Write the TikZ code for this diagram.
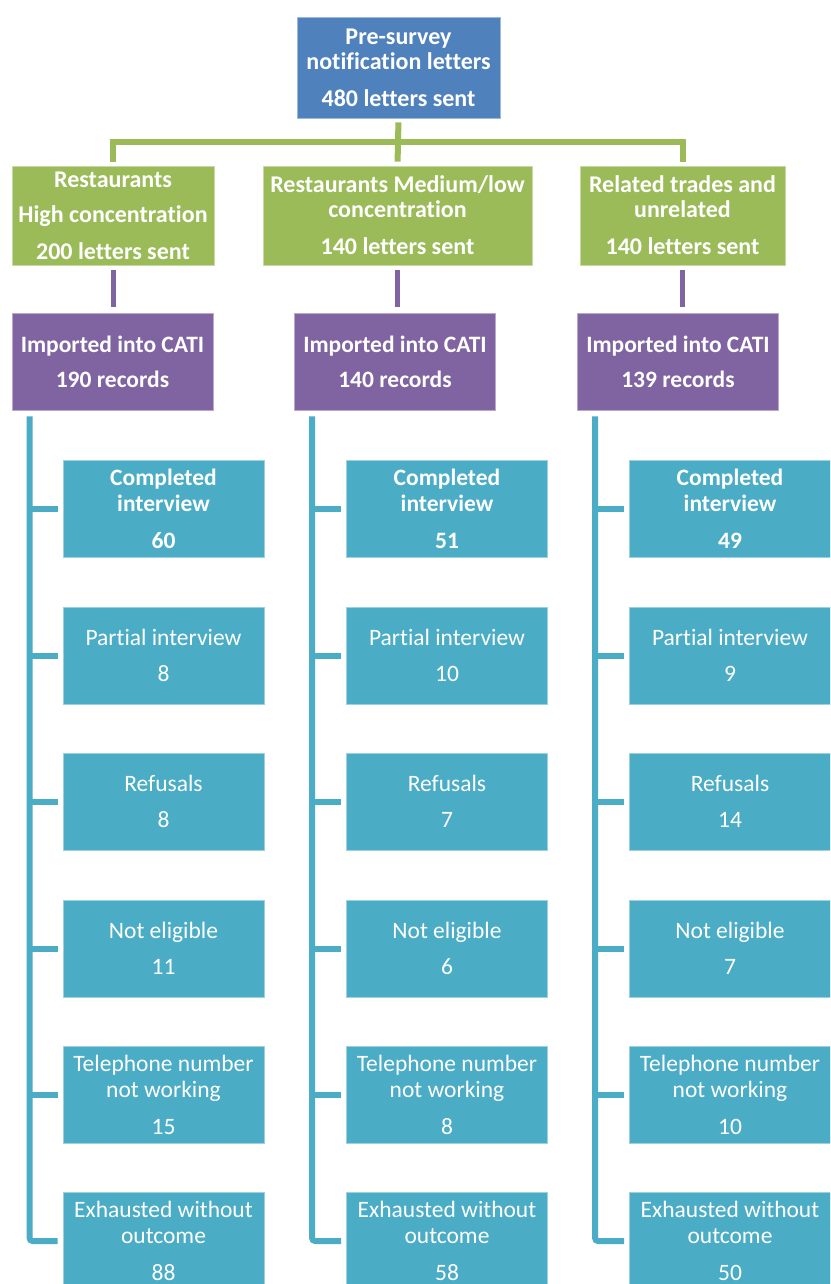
\documentclass[tikz,border=0pt]{standalone}
\usepackage{fontspec}
\setmainfont{Carlito}[Ligatures={NoCommon}]
\definecolor{cblue}{HTML}{4F81BD}
\definecolor{cgreen}{HTML}{9BBB59}
\definecolor{cpurple}{HTML}{8064A2}
\definecolor{cteal}{HTML}{4BACC6}
\begin{document}
\begin{tikzpicture}[x=1pt,y=-1pt,
  basebox/.style={rectangle, inner sep=0pt, align=center, text=white, line width=0.8pt},
  topbox/.style={basebox, fill=cblue, draw=cblue!55!white, minimum width=203, minimum height=101,
     font=\bfseries\fontsize{24}{25}\selectfont},
  greenbox/.style={basebox, fill=cgreen, draw=cgreen!55!white, minimum height=99,
     font=\bfseries\fontsize{24}{25}\selectfont},
  purplebox/.style={basebox, fill=cpurple, draw=cpurple!55!white, minimum width=201, minimum height=97,
     font=\bfseries\fontsize{23.5}{25}\selectfont},
  tealbox/.style={basebox, fill=cteal, draw=cteal!55!white, minimum width=201, minimum height=97,
     font=\fontsize{23.5}{26}\selectfont},
  gline/.style={draw=cgreen, line width=6pt},
  pline/.style={draw=cpurple, line width=5pt},
  tline/.style={draw=cteal, line width=6pt}]
\useasboundingbox (0,0) rectangle (830,1284);
\clip (0,0) rectangle (830,1284);

\node[topbox] (top) at (398.5,67.5) {Pre-survey\\notification letters\\[12pt]480 letters sent};

\node[greenbox, minimum width=202] (g1) at (113,215.5) {Restaurants\\[10pt]High concentration\\[12pt]200 letters sent};
\node[greenbox, minimum width=269] (g2) at (397.5,215.5) {Restaurants Medium/low\\concentration\\[12pt]140 letters sent};
\node[greenbox, minimum width=205] (g3) at (682.5,215.5) {Related trades and\\unrelated\\[12pt]140 letters sent};

\draw[gline, shorten <=4pt, shorten >=4pt] (top.south) -- (g2.north);
\coordinate (hb) at (0,142);
\draw[gline, shorten <=4pt, shorten >=4pt, line join=miter] (g1.north) -- (g1.north |- hb) -- (g3.north |- hb) -- (g3.north);

\node[purplebox] (p1) at (112.5,361.5) {Imported into CATI\\[10pt]190 records};
\node[purplebox] (p2) at (395,361.5) {Imported into CATI\\[10pt]140 records};
\node[purplebox] (p3) at (678,361.5) {Imported into CATI\\[10pt]139 records};

\foreach \i in {1,2,3}{
  \draw[pline, shorten <=5pt, shorten >=6pt] (g\i.south) -- (g\i.south |- p\i.north);
}

\foreach \c/\x/\a/\b/\r/\n/\t/\e in {1/163.5/60/8/8/11/15/88, 2/447/51/10/7/6/8/58, 3/730/49/9/14/7/10/50}{
  \node[tealbox, font=\bfseries\fontsize{23.5}{26}\selectfont] (t\c-1) at (\x,508.5) {Completed\\interview\\[11pt]\a};
  \node[tealbox] (t\c-2) at (\x,655.5) {Partial interview\\[10pt]\b};
  \node[tealbox] (t\c-3) at (\x,801.5) {Refusals\\[10pt]\r};
  \node[tealbox] (t\c-4) at (\x,948.5) {Not eligible\\[10pt]\n};
  \node[tealbox] (t\c-5) at (\x,1094.5) {Telephone number\\not working\\[11pt]\t};
  \node[tealbox] (t\c-6) at (\x,1241) {Exhausted without\\outcome\\[11pt]\e};
  \coordinate (s\c) at ([xshift=18pt, yshift=-6pt]p\c.south west);
  \draw[tline, rounded corners=3pt] (s\c) |- ([xshift=-5pt]t\c-6.west);
  \foreach \k in {1,...,5}{
    \draw[tline] (s\c |- t\c-\k.west) -- ([xshift=-5pt]t\c-\k.west);
  }
}
\end{tikzpicture}
\end{document}
